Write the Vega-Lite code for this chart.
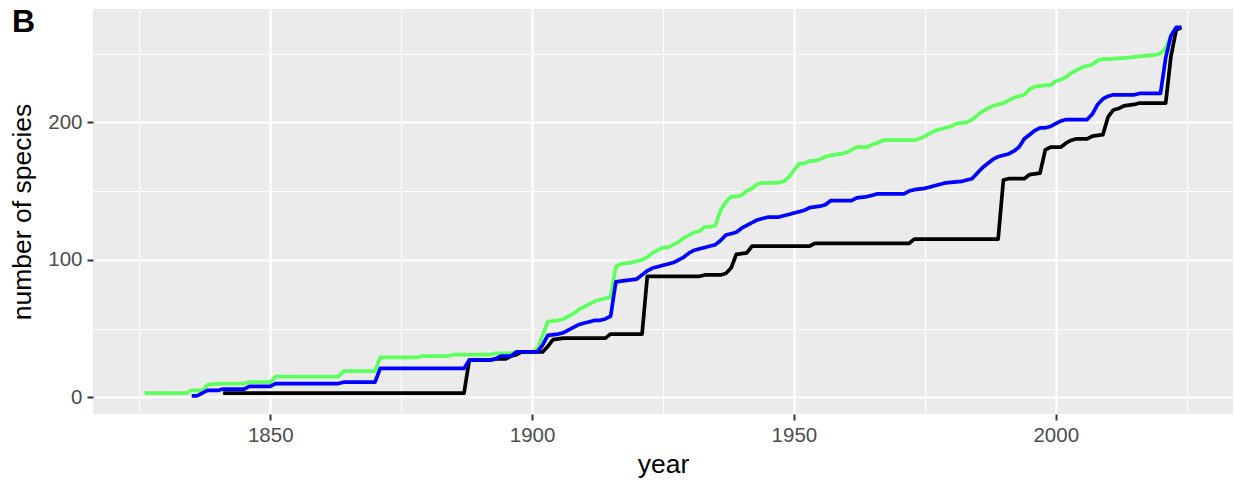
{
  "$schema": "https://vega.github.io/schema/vega-lite/v6.json",
  "autosize": {"type": "none"},
  "padding": {"left": 93, "top": 9, "right": 2, "bottom": 73},
  "width": 1140,
  "height": 405,
  "background": "white",
  "config": {"font": "Liberation Sans", "view": {"fill": "#EBEBEB", "stroke": null}},
  "title": {"text": "B", "fontSize": 32, "fontWeight": "bold", "anchor": "start", "frame": "group", "offset": 0, "dx": -81, "dy": 30, "color": "black", "font": "Liberation Sans"},
  "datasets": {
    "green": [
      {"year":1826,"n":3},{"year":1834,"n":3},{"year":1835,"n":5},{"year":1837,"n":5},{"year":1838,"n":9},{"year":1840,"n":10},{"year":1845,"n":10},{"year":1846,"n":11},{"year":1850,"n":11},{"year":1851,"n":15},{"year":1863,"n":15},{"year":1864,"n":19},{"year":1870,"n":19},{"year":1871,"n":29},{"year":1878,"n":29},{"year":1879,"n":30},{"year":1884,"n":30},{"year":1885,"n":31},{"year":1892,"n":31},{"year":1893,"n":32},{"year":1896,"n":32},{"year":1897,"n":33},{"year":1900,"n":33},{"year":1901,"n":35},{"year":1902,"n":45},{"year":1903,"n":55},{"year":1905,"n":56},{"year":1906,"n":57},{"year":1907,"n":59},{"year":1908,"n":61},{"year":1909,"n":64},{"year":1910,"n":66},{"year":1911,"n":68},{"year":1912,"n":70},{"year":1913,"n":71},{"year":1914,"n":72},{"year":1915,"n":73},{"year":1916,"n":95},{"year":1917,"n":97},{"year":1919,"n":98},{"year":1920,"n":99},{"year":1921,"n":100},{"year":1922,"n":102},{"year":1923,"n":105},{"year":1924,"n":107},{"year":1925,"n":109},{"year":1926,"n":109},{"year":1927,"n":111},{"year":1928,"n":113},{"year":1929,"n":116},{"year":1930,"n":118},{"year":1931,"n":120},{"year":1932,"n":121},{"year":1933,"n":124},{"year":1934,"n":124},{"year":1935,"n":125},{"year":1936,"n":136},{"year":1937,"n":142},{"year":1938,"n":146},{"year":1939,"n":146},{"year":1940,"n":147},{"year":1941,"n":150},{"year":1942,"n":152},{"year":1943,"n":155},{"year":1944,"n":156},{"year":1947,"n":156},{"year":1948,"n":157},{"year":1949,"n":160},{"year":1950,"n":165},{"year":1951,"n":170},{"year":1952,"n":170},{"year":1953,"n":172},{"year":1954,"n":172},{"year":1955,"n":173},{"year":1956,"n":175},{"year":1957,"n":176},{"year":1959,"n":177},{"year":1960,"n":178},{"year":1961,"n":180},{"year":1962,"n":182},{"year":1964,"n":182},{"year":1965,"n":184},{"year":1966,"n":185},{"year":1967,"n":187},{"year":1973,"n":187},{"year":1974,"n":188},{"year":1975,"n":190},{"year":1976,"n":192},{"year":1977,"n":194},{"year":1978,"n":195},{"year":1979,"n":196},{"year":1980,"n":197},{"year":1981,"n":199},{"year":1983,"n":200},{"year":1984,"n":202},{"year":1985,"n":205},{"year":1986,"n":208},{"year":1987,"n":210},{"year":1988,"n":212},{"year":1989,"n":213},{"year":1990,"n":214},{"year":1991,"n":216},{"year":1992,"n":218},{"year":1993,"n":219},{"year":1994,"n":220},{"year":1995,"n":224},{"year":1996,"n":226},{"year":1998,"n":227},{"year":1999,"n":227},{"year":2000,"n":230},{"year":2001,"n":231},{"year":2002,"n":233},{"year":2003,"n":236},{"year":2004,"n":238},{"year":2005,"n":240},{"year":2006,"n":241},{"year":2007,"n":242},{"year":2008,"n":245},{"year":2009,"n":246},{"year":2010,"n":246},{"year":2014,"n":247},{"year":2016,"n":248},{"year":2019,"n":249},{"year":2020,"n":250},{"year":2021,"n":254},{"year":2022,"n":263},{"year":2023,"n":268},{"year":2024,"n":269}
    ],
    "black": [
      {"year":1841,"n":3},{"year":1887,"n":3},{"year":1888,"n":27},{"year":1892,"n":27},{"year":1893,"n":28},{"year":1895,"n":28},{"year":1896,"n":30},{"year":1897,"n":31},{"year":1898,"n":33},{"year":1902,"n":33},{"year":1903,"n":37},{"year":1904,"n":42},{"year":1906,"n":43},{"year":1914,"n":43},{"year":1915,"n":46},{"year":1921,"n":46},{"year":1922,"n":88},{"year":1932,"n":88},{"year":1933,"n":89},{"year":1936,"n":89},{"year":1937,"n":90},{"year":1938,"n":94},{"year":1939,"n":104},{"year":1941,"n":105},{"year":1942,"n":110},{"year":1953,"n":110},{"year":1954,"n":112},{"year":1972,"n":112},{"year":1973,"n":115},{"year":1989,"n":115},{"year":1990,"n":158},{"year":1991,"n":159},{"year":1994,"n":159},{"year":1995,"n":162},{"year":1997,"n":163},{"year":1998,"n":180},{"year":1999,"n":182},{"year":2001,"n":182},{"year":2002,"n":185},{"year":2003,"n":187},{"year":2004,"n":188},{"year":2006,"n":188},{"year":2007,"n":190},{"year":2009,"n":191},{"year":2010,"n":204},{"year":2011,"n":209},{"year":2012,"n":210},{"year":2013,"n":212},{"year":2015,"n":213},{"year":2016,"n":214},{"year":2021,"n":214},{"year":2022,"n":248},{"year":2023,"n":267},{"year":2024,"n":269}
    ],
    "blue": [
      {"year":1835,"n":1},{"year":1836,"n":1},{"year":1837,"n":3},{"year":1838,"n":5},{"year":1840,"n":5},{"year":1841,"n":6},{"year":1845,"n":6},{"year":1846,"n":8},{"year":1850,"n":8},{"year":1851,"n":10},{"year":1863,"n":10},{"year":1864,"n":11},{"year":1870,"n":11},{"year":1871,"n":21},{"year":1887,"n":21},{"year":1888,"n":27},{"year":1892,"n":27},{"year":1893,"n":28},{"year":1894,"n":30},{"year":1896,"n":30},{"year":1897,"n":33},{"year":1901,"n":33},{"year":1902,"n":38},{"year":1903,"n":45},{"year":1905,"n":46},{"year":1906,"n":47},{"year":1907,"n":49},{"year":1908,"n":51},{"year":1909,"n":53},{"year":1910,"n":54},{"year":1911,"n":55},{"year":1912,"n":56},{"year":1913,"n":56},{"year":1914,"n":57},{"year":1915,"n":59},{"year":1916,"n":84},{"year":1918,"n":85},{"year":1920,"n":86},{"year":1921,"n":89},{"year":1922,"n":92},{"year":1923,"n":94},{"year":1924,"n":95},{"year":1925,"n":96},{"year":1926,"n":97},{"year":1927,"n":98},{"year":1928,"n":100},{"year":1929,"n":102},{"year":1930,"n":105},{"year":1931,"n":107},{"year":1932,"n":108},{"year":1933,"n":109},{"year":1934,"n":110},{"year":1935,"n":111},{"year":1936,"n":114},{"year":1937,"n":118},{"year":1938,"n":119},{"year":1939,"n":120},{"year":1940,"n":123},{"year":1941,"n":125},{"year":1942,"n":127},{"year":1943,"n":129},{"year":1944,"n":130},{"year":1945,"n":131},{"year":1947,"n":131},{"year":1948,"n":132},{"year":1949,"n":133},{"year":1950,"n":134},{"year":1951,"n":135},{"year":1952,"n":136},{"year":1953,"n":138},{"year":1955,"n":139},{"year":1956,"n":140},{"year":1957,"n":143},{"year":1961,"n":143},{"year":1962,"n":145},{"year":1964,"n":146},{"year":1965,"n":147},{"year":1966,"n":148},{"year":1971,"n":148},{"year":1972,"n":150},{"year":1973,"n":151},{"year":1975,"n":152},{"year":1976,"n":153},{"year":1977,"n":154},{"year":1978,"n":155},{"year":1979,"n":156},{"year":1982,"n":157},{"year":1983,"n":158},{"year":1984,"n":159},{"year":1985,"n":163},{"year":1986,"n":167},{"year":1987,"n":170},{"year":1988,"n":173},{"year":1989,"n":175},{"year":1990,"n":176},{"year":1991,"n":177},{"year":1992,"n":179},{"year":1993,"n":182},{"year":1994,"n":188},{"year":1995,"n":191},{"year":1996,"n":194},{"year":1997,"n":196},{"year":1998,"n":196},{"year":1999,"n":197},{"year":2000,"n":199},{"year":2001,"n":201},{"year":2002,"n":202},{"year":2006,"n":202},{"year":2007,"n":206},{"year":2008,"n":213},{"year":2009,"n":217},{"year":2010,"n":219},{"year":2011,"n":220},{"year":2015,"n":220},{"year":2016,"n":221},{"year":2020,"n":221},{"year":2021,"n":247},{"year":2022,"n":263},{"year":2023,"n":269},{"year":2024,"n":269}
    ]
  },
  "layer": [
    {
      "data": {"name": "green"},
      "mark": {"type": "line", "strokeOpacity": 0},
      "encoding": {
        "x": {"field": "year", "type": "quantitative", "scale": {"domain": [1816.15, 2033.85], "nice": false, "zero": false},
              "axis": {"orient": "bottom", "values": [1825, 1875, 1925, 1975, 2025], "grid": true, "gridColor": "white", "gridWidth": 1.1, "labels": false, "ticks": false, "domain": false, "title": null}},
        "y": {"field": "n", "type": "quantitative", "scale": {"domain": [-12.15, 282.4], "nice": false, "zero": false},
              "axis": {"orient": "left", "values": [50, 150, 250], "grid": true, "gridColor": "white", "gridWidth": 1.1, "labels": false, "ticks": false, "domain": false, "title": null}}
      }
    },
    {
      "data": {"name": "green"},
      "mark": {"type": "line", "color": "#5CFF5C", "strokeWidth": 3.7, "strokeCap": "butt", "strokeJoin": "round"},
      "encoding": {
        "x": {"field": "year", "type": "quantitative", "scale": {"domain": [1816.15, 2033.85], "nice": false, "zero": false},
              "axis": {"orient": "bottom", "values": [1850, 1900, 1950, 2000], "format": "d", "grid": true, "gridColor": "white", "gridWidth": 2.2, "domain": false, "ticks": true, "tickColor": "#333333", "tickSize": 6, "tickWidth": 2, "labelFontSize": 20.5, "labelColor": "#4D4D4D", "labelPadding": 5, "labelFont": "Liberation Sans", "title": "year", "titleFont": "Liberation Sans", "titleFontSize": 26.5, "titleFontWeight": "normal", "titleColor": "black", "titlePadding": 6}},
        "y": {"field": "n", "type": "quantitative", "scale": {"domain": [-12.15, 282.4], "nice": false, "zero": false},
              "axis": {"orient": "left", "values": [0, 100, 200], "grid": true, "gridColor": "white", "gridWidth": 2.2, "domain": false, "ticks": true, "tickColor": "#333333", "tickSize": 6, "tickWidth": 2, "labelFontSize": 20.5, "labelColor": "#4D4D4D", "labelPadding": 5, "labelFont": "Liberation Sans", "title": "number of species", "titleFont": "Liberation Sans", "titleFontSize": 26.5, "titleFontWeight": "normal", "titleColor": "black", "titlePadding": 11}}
      }
    },
    {
      "data": {"name": "black"},
      "mark": {"type": "line", "color": "#000000", "strokeWidth": 3.7, "strokeCap": "butt", "strokeJoin": "round"},
      "encoding": {
        "x": {"field": "year", "type": "quantitative", "axis": null},
        "y": {"field": "n", "type": "quantitative", "axis": null}
      }
    },
    {
      "data": {"name": "blue"},
      "mark": {"type": "line", "color": "#0000FF", "strokeWidth": 3.7, "strokeCap": "butt", "strokeJoin": "round"},
      "encoding": {
        "x": {"field": "year", "type": "quantitative", "axis": null},
        "y": {"field": "n", "type": "quantitative", "axis": null}
      }
    }
  ],
  "resolve": {"axis": {"x": "independent", "y": "independent"}}
}
